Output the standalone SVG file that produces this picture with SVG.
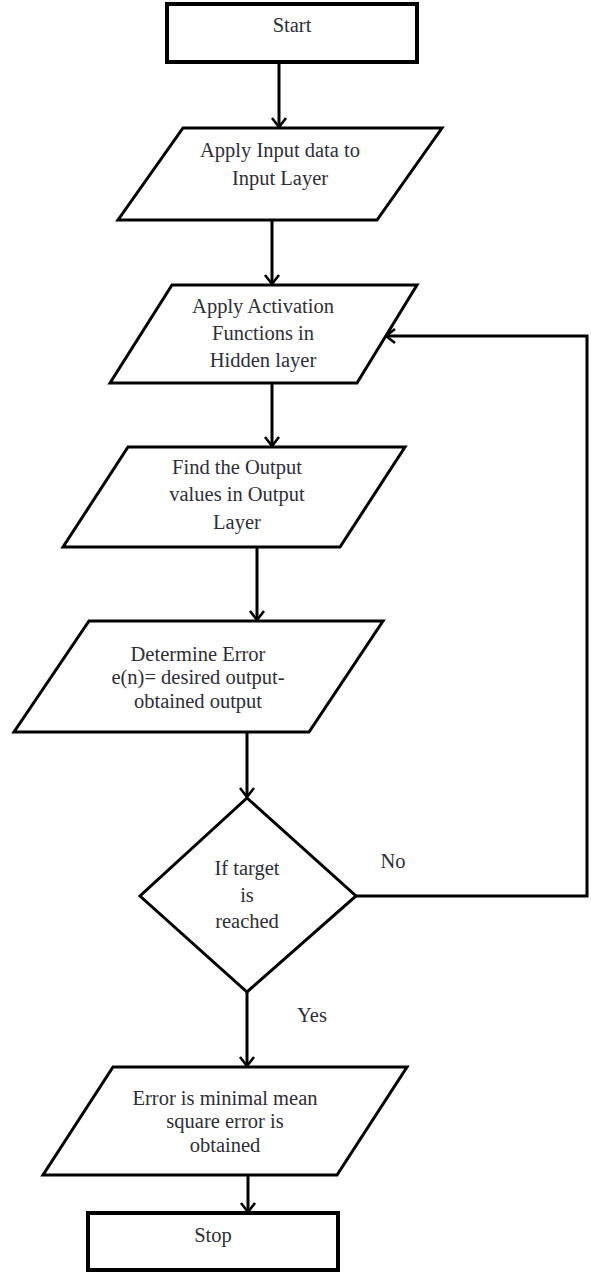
<svg xmlns="http://www.w3.org/2000/svg" width="591" height="1273" viewBox="0 0 591 1273" font-family="Liberation Serif, Tinos, DejaVu Serif, serif">
<defs>
<style>
.box{fill:#fff;stroke:#000;stroke-width:4}
.shape{fill:#fff;stroke:#000;stroke-width:3;stroke-linejoin:miter}
.conn{fill:none;stroke:#000;stroke-width:3}
.t{font-family:'Liberation Serif',Tinos,'DejaVu Serif',serif;font-size:20.5px;fill:#2e2e38;text-anchor:middle}
</style>
<marker id="arr" viewBox="-12 -10 14 20" markerWidth="14" markerHeight="20" markerUnits="userSpaceOnUse" refX="0" refY="0" orient="auto">
<path d="M-9,-7 L0,0 L-9,7" fill="none" stroke="#000" stroke-width="2.6"/>
</marker>
</defs>
<rect width="591" height="1273" fill="#fff"/>
<g id="connectors">
<line class="conn" x1="279" y1="62" x2="279" y2="127" marker-end="url(#arr)"/>
<line class="conn" x1="272" y1="220" x2="272" y2="284" marker-end="url(#arr)"/>
<line class="conn" x1="272" y1="383" x2="272" y2="446" marker-end="url(#arr)"/>
<line class="conn" x1="257" y1="547" x2="257" y2="620" marker-end="url(#arr)"/>
<line class="conn" x1="247" y1="732" x2="247" y2="797" marker-end="url(#arr)"/>
<line class="conn" x1="247" y1="992" x2="247" y2="1066" marker-end="url(#arr)"/>
<line class="conn" x1="248" y1="1175" x2="248" y2="1212" marker-end="url(#arr)"/>
<polyline class="conn" points="356,896 587,896 587,336 386,336" marker-end="url(#arr)"/>
<text class="t" x="393" y="868">No</text>
<text class="t" x="312" y="1022">Yes</text>
</g>
<g id="start">
<rect class="box" x="167" y="4" width="250" height="58"/>
<text class="t" x="292" y="32">Start</text>
</g>
<g id="input">
<polygon class="shape" points="183,128 442,128 377,220 118,220"/>
<text class="t" x="280" y="157">Apply Input data to</text>
<text class="t" x="280" y="185">Input Layer</text>
</g>
<g id="activation">
<polygon class="shape" points="172,285 417,285 357,383 110,383"/>
<text class="t" x="263" y="313">Apply Activation</text>
<text class="t" x="263" y="340">Functions in</text>
<text class="t" x="263" y="367">Hidden layer</text>
</g>
<g id="output">
<polygon class="shape" points="128,447 405,447 340,547 63,547"/>
<text class="t" x="237" y="474">Find the Output</text>
<text class="t" x="237" y="501">values in Output</text>
<text class="t" x="237" y="529">Layer</text>
</g>
<g id="error">
<polygon class="shape" points="89,621 383,621 309,732 14,732"/>
<text class="t" x="198" y="661">Determine Error</text>
<text class="t" x="198" y="684">e(n)= desired output-</text>
<text class="t" x="198" y="708">obtained output</text>
</g>
<g id="decision">
<polygon class="shape" points="247,798 356,896 247,992 140,896"/>
<text class="t" x="247" y="875">If target</text>
<text class="t" x="247" y="902">is</text>
<text class="t" x="247" y="928">reached</text>
</g>
<g id="mse">
<polygon class="shape" points="113,1067 407,1067 337,1175 43,1175"/>
<text class="t" x="225" y="1105">Error is minimal mean</text>
<text class="t" x="225" y="1128">square error is</text>
<text class="t" x="225" y="1152">obtained</text>
</g>
<g id="stop">
<rect class="box" x="88" y="1213" width="250" height="57"/>
<text class="t" x="213" y="1242">Stop</text>
</g>
</svg>
